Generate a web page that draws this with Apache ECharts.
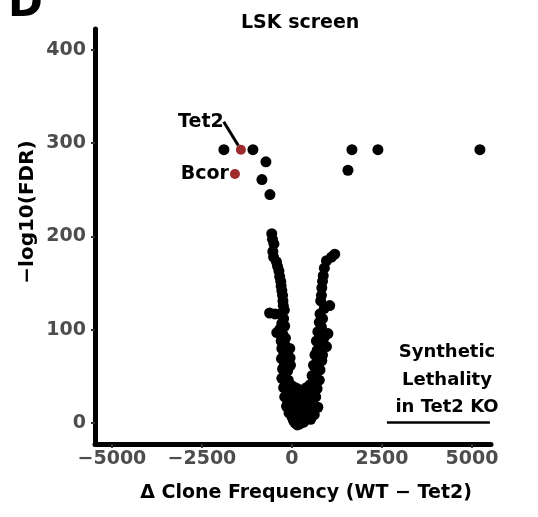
<!DOCTYPE html>
<html>
<head>
<meta charset="utf-8">
<script src="https://cdn.jsdelivr.net/npm/echarts@6/dist/echarts.min.js"></script>
<style>
html,body{margin:0;padding:0;background:#fff;}
#chart{width:538px;height:517px;}
</style>
</head>
<body>
<div id="chart"></div>
<script>
// ---- data ----
const xTicks = [-5000, -2500, 0, 2500, 5000];
const yTicks = [0, 100, 200, 300, 400];

// background genes: delta clone frequency (WT - Tet2) and -log10(FDR)
const geneDelta = [
  -1889, -1083, -722, -833, -611, 1667, 2389, 5222, 1556,
  -560, -540, -500, -530, -510, -430, -400, -360, -340, -310, -300, -280, -260, -250, -240, -210,
  -620, -470, -330, -230, -280, -200, -330, -420, -250, -180, -300, -200, -280, -150, -230, -290,
  -140, -210, -260, -120, -200, -280, -100, -170, -230, -60, -130, -200, -40, -110, -150, -20,
  -80, 0, 40, 90, 150, 210, 260, -40, -50, -60,
  1190, 1100, 960, 900, 870, 850, 830, 820, 800, 1050, 900, 780, 850, 760, 820, 1000, 720, 900,
  680, 960, 780, 700, 850, 640, 830, 740, 600, 780, 680, 560, 760, 640, 500, 700, 580, 440, 660,
  520, 400, 720, 600, 340, 480, 620, 280, 400, 520, 330,
  0, 100, 200, 300, 400, 50, 150, 250, 350, 100, 200, 300, 50, 150, 250, 350, 100, 200, 300, 450, 500
];
const geneFDR = [
  293, 293, 280, 261, 245, 293, 293, 293, 271,
  203, 197, 192, 184, 178, 173, 168, 163, 157, 152, 147, 142, 137, 131, 126, 121,
  118, 117, 117, 112, 107, 104, 101, 97, 95, 91, 88, 84, 80, 77, 73, 69,
  66, 62, 58, 56, 52, 48, 46, 42, 38, 36, 32, 28, 26, 22, 18, 15,
  11, 7, 3, 0, -2, -1, 1, 62, 70, 80,
  181, 178, 174, 166, 158, 152, 145, 137, 131, 126, 123, 117, 112, 108, 103, 96, 98, 92,
  88, 82, 84, 78, 73, 73, 67, 64, 62, 57, 54, 51, 46, 44, 41, 37, 34, 32, 28,
  25, 22, 17, 16, 14, 12, 9, 8, 5, 4, 1,
  40, 38, 36, 35, 38, 30, 28, 27, 29, 20, 19, 21, 14, 12, 13, 10, 5, 6, 4, 18, 28
];

// highlighted genes
const hitGenes = ['Tet2', 'Bcor'];
const hitDelta = [-1417, -1583];
const hitFDR = [293, 267];

const titleText = 'LSK screen';
const xName = 'Δ Clone Frequency (WT − Tet2)';
const yName = '−log10(FDR)';
const noteLines = ['Synthetic', 'Lethality', 'in Tet2 KO'];

// ---- chart ----
const FONT = '"DejaVu Sans", "Liberation Sans", Arial, sans-serif';
const chart = echarts.init(document.getElementById('chart'), null, {renderer: 'canvas'});

const bgData = geneDelta.map((x, i) => [x, geneFDR[i]]);
const hitData = hitGenes.map((g, i) => ({
  name: g,
  value: [hitDelta[i], hitFDR[i]],
  label: i === 0 ? {position: 'inside'} : {position: 'left', distance: 1},
  labelLine: {show: i === 0}
}));

const option = {
  animation: false,
  backgroundColor: '#ffffff',
  title: {
    text: titleText,
    left: 236, top: 9,
    textStyle: {fontFamily: FONT, fontWeight: 'bold', fontSize: 19, color: '#000'}
  },
  grid: {left: 95, right: 47, top: 29, bottom: 73, containLabel: false},
  xAxis: {
    type: 'value', min: -5470, max: 5530,
    name: xName, nameLocation: 'middle', nameGap: 40,
    nameTextStyle: {fontFamily: FONT, fontWeight: 'bold', fontSize: 19, color: '#000', padding: [0, 0, 0, 26]},
    axisLine: {show: true, onZero: false, lineStyle: {color: '#000', width: 5}},
    axisTick: {show: true, length: 4, customValues: xTicks, lineStyle: {color: '#333', width: 2}},
    axisLabel: {customValues: xTicks, margin: 6, fontFamily: FONT, fontWeight: 'bold', fontSize: 19, color: '#4d4d4d',
      formatter: v => (v < 0 ? '−' + Math.abs(v) : String(v))},
    splitLine: {show: false}
  },
  yAxis: {
    type: 'value', min: -22.4, max: 422.4,
    axisLine: {show: true, onZero: false, lineStyle: {color: '#000', width: 5}},
    axisTick: {show: true, length: 4, customValues: yTicks, lineStyle: {color: '#333', width: 2}},
    axisLabel: {customValues: yTicks, margin: 9, fontFamily: FONT, fontWeight: 'bold', fontSize: 19, color: '#4d4d4d'},
    splitLine: {show: false}
  },
  graphic: [
    {type: 'text', left: 8, top: -16, style: {text: 'D', font: 'bold 42px ' + FONT, fill: '#000'}},
    {type: 'text', x: 28, y: 212, rotation: Math.PI / 2,
      style: {text: yName, font: 'bold 20px ' + FONT, fill: '#000', align: 'center', verticalAlign: 'middle'}},
    {type: 'text', x: 447, y: 352, style: {text: noteLines[0], font: 'bold 18px ' + FONT, fill: '#000', align: 'center', verticalAlign: 'middle'}},
    {type: 'text', x: 447, y: 380, style: {text: noteLines[1], font: 'bold 18px ' + FONT, fill: '#000', align: 'center', verticalAlign: 'middle'}},
    {type: 'text', x: 447, y: 407, style: {text: noteLines[2], font: 'bold 18px ' + FONT, fill: '#000', align: 'center', verticalAlign: 'middle'}}
  ],
  series: [
    {
      type: 'scatter', data: bgData, symbol: 'circle', symbolSize: 11,
      itemStyle: {color: '#000', opacity: 1}, z: 2,
      emphasis: {disabled: true},
      markLine: {
        silent: true, symbol: ['none', 'arrow'], symbolSize: [0, 7],
        lineStyle: {color: '#000', width: 2.5, type: 'solid', opacity: 1},
        label: {show: false},
        data: [[{coord: [2639, 1]}, {coord: [5500, 1]}]]
      }
    },
    {
      type: 'scatter', data: hitData, symbol: 'circle', symbolSize: 10,
      itemStyle: {color: '#9e2a2b', opacity: 1}, z: 3,
      emphasis: {disabled: true},
      label: {show: true, formatter: '{b}', fontFamily: FONT, fontWeight: 'bold', fontSize: 19, color: '#000', opacity: 1},
      labelLine: {show: false, lineStyle: {color: '#000', width: 3, opacity: 1}},
      labelLayout: function (p) { return p.dataIndex === 0 ? {dx: -40, dy: -28} : {}; }
    }
  ]
};
chart.setOption(option);
</script>
</body>
</html>
